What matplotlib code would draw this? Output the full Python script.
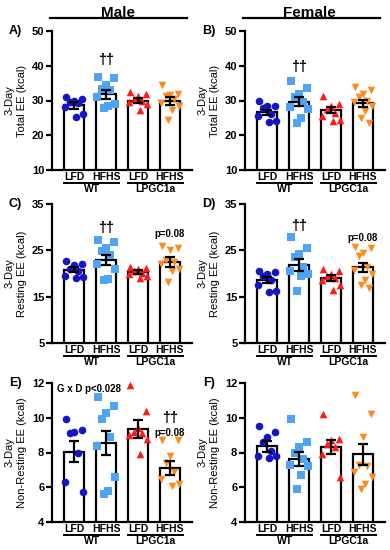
import numpy as np
import matplotlib.pyplot as plt
from matplotlib.lines import Line2D

plt.rcParams['font.family'] = ['Liberation Sans', 'DejaVu Sans']
plt.rcParams['font.weight'] = 'bold'

diets = ['LFD', 'HFHS', 'LFD', 'HFHS']
genotypes = ['WT', 'LPGC1a']
colors = ['#1515c4', '#4ea4f2', '#ff1a1a', '#ff8a1c']
markers = ['o', 's', '^', 'v']

# A) male, total EE
a_mean = [28.6, 31.8, 30.0, 29.9]
a_sem = [1.1, 1.3, 0.6, 1.1]
a_pts = [[31.0, 30.5, 30.0, 29.5, 29.2, 28.0, 26.0, 25.2],
         [36.9, 36.6, 34.6, 33.3, 33.0, 31.0, 29.0, 28.3, 27.8],
         [32.5, 32.0, 31.2, 30.5, 30.0, 29.5, 29.0, 27.2],
         [34.6, 32.0, 31.5, 31.2, 30.5, 29.4, 28.5, 27.4, 24.5]]
# B) female, total EE
b_mean = [26.6, 29.7, 27.3, 29.2]
b_sem = [0.8, 1.4, 0.9, 1.0]
b_pts = [[29.8, 28.5, 28.3, 27.8, 26.2, 25.5, 24.0, 23.8],
         [35.5, 33.5, 32.0, 31.0, 29.5, 28.0, 27.5, 25.0, 23.5],
         [31.3, 29.0, 28.5, 27.5, 26.5, 25.5, 24.5, 24.0],
         [34.0, 33.0, 32.0, 31.0, 30.0, 29.5, 28.5, 27.0, 25.0, 23.5]]
# C) male, resting EE
c_mean = [20.8, 23.0, 20.3, 22.5]
c_sem = [0.5, 1.1, 0.4, 1.0]
c_pts = [[22.7, 22.0, 21.8, 21.0, 20.5, 19.5, 19.2, 19.0],
         [27.2, 26.8, 25.5, 24.8, 24.0, 22.0, 21.0, 18.9, 18.6],
         [21.5, 21.2, 21.0, 20.5, 20.2, 20.0, 19.5, 19.0],
         [26.0, 25.5, 25.0, 23.0, 22.5, 22.0, 21.0, 20.5, 18.2]]
# D) female, resting EE
d_mean = [18.6, 21.9, 19.0, 21.3]
d_sem = [0.6, 1.3, 0.6, 1.0]
d_pts = [[20.5, 20.3, 20.0, 19.5, 18.5, 17.5, 16.3, 16.0],
         [27.8, 25.4, 24.3, 23.5, 21.5, 20.5, 20.0, 19.5, 16.3],
         [21.0, 20.5, 20.0, 19.5, 19.0, 18.5, 17.5, 16.5],
         [25.7, 25.5, 24.5, 23.8, 21.5, 20.8, 19.8, 18.5, 17.5, 16.8]]
# E) male, non-resting EE
e_mean = [8.05, 8.55, 9.35, 7.1]
e_sem = [0.6, 0.7, 0.5, 0.4]
e_pts = [[9.9, 9.3, 9.2, 9.1, 8.0, 6.3, 5.7],
         [11.2, 10.7, 10.3, 9.9, 8.9, 8.4, 6.6, 5.8, 5.6],
         [11.9, 10.4, 9.4, 9.2, 9.1, 9.0, 8.8, 7.9],
         [8.7, 8.7, 7.8, 7.4, 6.9, 6.5, 6.2, 6.1]]
# F) female, non-resting EE
f_mean = [8.35, 7.65, 8.3, 7.9]
f_sem = [0.3, 0.4, 0.4, 0.6]
f_pts = [[9.5, 9.2, 8.9, 8.6, 8.1, 7.8, 7.8, 7.7],
         [9.9, 8.6, 8.3, 8.0, 7.6, 7.3, 7.2, 6.7, 5.9],
         [10.2, 8.8, 8.7, 8.5, 8.3, 7.9, 6.6],
         [11.3, 10.2, 8.9, 7.3, 7.2, 6.9, 6.6, 6.2, 5.9]]

jit = [-0.24, 0.24, 0.0, -0.13, 0.13, -0.27, 0.27, 0.06, -0.06, 0.18]

fig = plt.figure(figsize=(3.9, 5.5), dpi=100)

def panel(rect, means, sems, pts, ylim, yticks, ylab, letter):
    ax = fig.add_axes(rect)
    x = np.arange(4)
    ax.bar(x, means, width=0.62, color='white', edgecolor='black', linewidth=1.6, zorder=2)
    for i in range(4):
        ax.scatter(x[i] + np.array(jit[:len(pts[i])]), pts[i], s=30, c=colors[i],
                   marker=markers[i], linewidths=0, zorder=3, clip_on=False)
    ax.errorbar(x, means, yerr=sems, fmt='none', ecolor='black', elinewidth=1.6,
                capsize=3.5, capthick=1.6, zorder=4)
    ax.set_xlim(-0.69, 3.69)
    ax.set_ylim(*ylim)
    ax.set_yticks(yticks)
    ax.set_xticks(x)
    ax.set_xticklabels(diets)
    for s in ['top', 'right']:
        ax.spines[s].set_visible(False)
    for s in ['left', 'bottom']:
        ax.spines[s].set_linewidth(1.6)
    ax.tick_params(axis='y', direction='out', length=4, width=1.6, labelsize=8, pad=1.5)
    ax.tick_params(axis='x', length=0, labelsize=7.5, pad=1.5)
    ax.set_ylabel('3-Day\n' + ylab, fontsize=8, linespacing=1.25)
    ax.yaxis.set_label_coords(-0.18, 0.5)
    tr = ax.get_xaxis_transform()
    for lo, hi, g in [(-0.3, 1.42, genotypes[0]), (1.68, 3.4, genotypes[1])]:
        ax.plot([lo, hi], [-0.095, -0.095], color='black', lw=1.4, transform=tr, clip_on=False)
        ax.text((lo + hi) / 2, -0.14, g, transform=tr, ha='center', va='center', fontsize=7.5)
    ax.text(-0.26, 1.0, letter, transform=ax.transAxes, ha='center', va='center', fontsize=9)
    return ax

W = 140 / 390
H = 139 / 550
ax_a = panel([52 / 390, 380 / 550, W, H], a_mean, a_sem, a_pts, (10, 50), [10, 20, 30, 40, 50], 'Total EE (kcal)', 'A)')
ax_b = panel([245 / 390, 380 / 550, W, H], b_mean, b_sem, b_pts, (10, 50), [10, 20, 30, 40, 50], 'Total EE (kcal)', 'B)')
ax_c = panel([52 / 390, 207 / 550, W, H], c_mean, c_sem, c_pts, (5, 35), [5, 15, 25, 35], 'Resting EE (kcal)', 'C)')
ax_d = panel([245 / 390, 207 / 550, W, H], d_mean, d_sem, d_pts, (5, 35), [5, 15, 25, 35], 'Resting EE (kcal)', 'D)')
ax_e = panel([52 / 390, 28 / 550, W, H], e_mean, e_sem, e_pts, (4, 12), [4, 6, 8, 10, 12], 'Non-Resting EE (kcal)', 'E)')
ax_f = panel([245 / 390, 28 / 550, W, H], f_mean, f_sem, f_pts, (4, 12), [4, 6, 8, 10, 12], 'Non-Resting EE (kcal)', 'F)')

# significance marks
ax_a.text(1, 41.7, '\u2020\u2020', ha='center', va='center', fontsize=10.5)
ax_b.text(1, 39.6, '\u2020\u2020', ha='center', va='center', fontsize=10.5)
ax_c.text(1, 29.8, '\u2020\u2020', ha='center', va='center', fontsize=10.5)
ax_c.text(3, 28.5, 'p=0.08', ha='center', va='center', fontsize=7)
ax_d.text(1, 30.2, '\u2020\u2020', ha='center', va='center', fontsize=10.5)
ax_d.text(3, 27.6, 'p=0.08', ha='center', va='center', fontsize=7)
ax_e.text(0.47, 11.65, 'G x D p<0.028', ha='center', va='center', fontsize=7)
ax_e.text(3, 10.0, '\u2020\u2020', ha='center', va='center', fontsize=10.5)
ax_e.text(3, 9.13, 'p=0.08', ha='center', va='center', fontsize=7)

# sex headers
fig.add_artist(Line2D([50 / 390, 187 / 390], [532 / 550, 532 / 550], color='black', lw=1.6))
fig.add_artist(Line2D([243 / 390, 380 / 390], [532 / 550, 532 / 550], color='black', lw=1.6))
fig.text(118 / 390, 537 / 550, 'Male', ha='center', va='center', fontsize=11)
fig.text(309 / 390, 537 / 550, 'Female', ha='center', va='center', fontsize=11)

fig.savefig('out.png', dpi=100)
